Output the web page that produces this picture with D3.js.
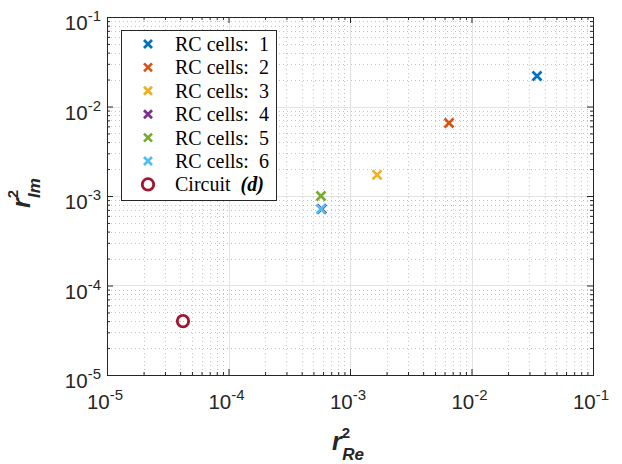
<!DOCTYPE html>
<html><head><meta charset="utf-8">
<script src="https://cdn.jsdelivr.net/npm/d3@7"></script>
<style>body{margin:0;background:#fff;} svg{display:block;}</style>
</head><body>
<script>
// Data
const seriesNames = ["RC cells: 1","RC cells: 2","RC cells: 3","RC cells: 4","RC cells: 5","RC cells: 6"];
const seriesColors = ["#0072BD","#D95319","#EDB120","#7E2F8E","#77AC30","#4DBEEE"];
const rRe = [0.0346, 0.00653, 0.00167, 0.000585, 0.000577, 0.000577];
const rIm = [0.0219, 0.00654, 0.00172, 0.000716, 0.00100, 0.000716];
const circuitRe = [4.22e-5];
const circuitIm = [4.0e-5];
const circuitColor = "#A2142F";
const tickExps = [-5,-4,-3,-2,-1];

const W = 622, H = 464;
const m = {l:107, r:593, t:17, b:375};
const svg = d3.select("body").append("svg").attr("width",W).attr("height",H);
const x = d3.scaleLog().domain([1e-5,1e-1]).range([m.l,m.r]);
const y = d3.scaleLog().domain([1e-5,1e-1]).range([m.b,m.t]);

const minors = [];
for (let e=-5;e<-1;e++) for (let k=2;k<=9;k++) minors.push(k*Math.pow(10,e));
const majors = tickExps.map(e=>Math.pow(10,e));

const g = svg.append("g");
g.selectAll(".mgx").data(minors).enter().append("line")
 .attr("x1",d=>Math.round(x(d))+0.5).attr("x2",d=>Math.round(x(d))+0.5).attr("y1",m.t).attr("y2",m.b)
 .attr("stroke","#c4c4c4").attr("stroke-width",1).attr("stroke-dasharray","1,3");
g.selectAll(".mgy").data(minors).enter().append("line")
 .attr("y1",d=>Math.round(y(d))+0.5).attr("y2",d=>Math.round(y(d))+0.5).attr("x1",m.l).attr("x2",m.r)
 .attr("stroke","#c4c4c4").attr("stroke-width",1).attr("stroke-dasharray","1,3");
g.selectAll(".Mgx").data(majors).enter().append("line")
 .attr("x1",d=>Math.round(x(d))+0.5).attr("x2",d=>Math.round(x(d))+0.5).attr("y1",m.t).attr("y2",m.b)
 .attr("stroke","#e3e3e3").attr("stroke-width",1);
g.selectAll(".Mgy").data(majors).enter().append("line")
 .attr("y1",d=>Math.round(y(d))+0.5).attr("y2",d=>Math.round(y(d))+0.5).attr("x1",m.l).attr("x2",m.r)
 .attr("stroke","#e3e3e3").attr("stroke-width",1);

const axCol = "#262626";
function styleAxis(sel){ sel.select(".domain").remove(); sel.selectAll("line").attr("stroke",axCol); sel.selectAll("text").remove(); }
svg.append("g").attr("transform",`translate(0,${m.b})`).call(d3.axisBottom(x).tickValues(majors).tickSize(-6)).call(styleAxis);
svg.append("g").attr("transform",`translate(0,${m.b})`).call(d3.axisBottom(x).tickValues(minors).tickSize(-3)).call(styleAxis);
svg.append("g").attr("transform",`translate(0,${m.t})`).call(d3.axisTop(x).tickValues(majors).tickSize(-6)).call(styleAxis);
svg.append("g").attr("transform",`translate(0,${m.t})`).call(d3.axisTop(x).tickValues(minors).tickSize(-3)).call(styleAxis);
svg.append("g").attr("transform",`translate(${m.l},0)`).call(d3.axisLeft(y).tickValues(majors).tickSize(-6)).call(styleAxis);
svg.append("g").attr("transform",`translate(${m.l},0)`).call(d3.axisLeft(y).tickValues(minors).tickSize(-3)).call(styleAxis);
svg.append("g").attr("transform",`translate(${m.r},0)`).call(d3.axisRight(y).tickValues(majors).tickSize(-6)).call(styleAxis);
svg.append("g").attr("transform",`translate(${m.r},0)`).call(d3.axisRight(y).tickValues(minors).tickSize(-3)).call(styleAxis);
svg.append("rect").attr("x",m.l+0.5).attr("y",m.t+0.5).attr("width",m.r-m.l).attr("height",m.b-m.t)
 .attr("fill","none").attr("stroke",axCol).attr("stroke-width",1);

// tick labels
const tf = "Liberation Sans, Arial, sans-serif";
function powLabel(sel, e){
  sel.append("tspan").text("10");
  sel.append("tspan").attr("dy",-9).attr("font-size",15).text(String(e));
}
tickExps.forEach(e=>{
  const t = svg.append("text").attr("x",x(Math.pow(10,e))-2).attr("y",m.b+34)
    .attr("text-anchor","middle").attr("font-family",tf).attr("font-size",20.5).attr("fill",axCol);
  powLabel(t,e);
  const t2 = svg.append("text").attr("x",m.l-6).attr("y",y(Math.pow(10,e))+13)
    .attr("text-anchor","end").attr("font-family",tf).attr("font-size",20.5).attr("fill",axCol);
  powLabel(t2,e);
});

// axis labels
function axLabel(t, sub){
  t.append("tspan").text("r");
  t.append("tspan").attr("dy",-12).attr("font-size",15).attr("font-style","normal").text("2");
  t.append("tspan").attr("dx",-8).attr("dy",22).attr("font-size",17).text(sub);
}
const xl = svg.append("text").attr("x",348).attr("y",450).attr("text-anchor","middle")
 .attr("font-family",tf).attr("font-size",25).attr("font-weight","bold").attr("font-style","italic")
 .attr("fill",axCol);
axLabel(xl,"Re");
const yl = svg.append("text").attr("transform","translate(30,193) rotate(-90)").attr("text-anchor","middle")
 .attr("font-family",tf).attr("font-size",25).attr("font-weight","bold").attr("font-style","italic")
 .attr("fill",axCol);
axLabel(yl,"Im");

// markers
const cross = (s)=>`M${-s},${-s}L${s},${s}M${-s},${s}L${s},${-s}`;
seriesNames.forEach((n,i)=>{
  svg.append("path").attr("d",cross(4.5))
   .attr("transform",`translate(${x(rRe[i])},${y(rIm[i])})`)
   .attr("stroke",seriesColors[i]).attr("stroke-width",2.7).attr("fill","none");
});
svg.selectAll(".circ").data(circuitRe).enter().append("circle")
 .attr("cx",d=>x(d)).attr("cy",(d,i)=>y(circuitIm[i])).attr("r",5.7)
 .attr("fill","none").attr("stroke",circuitColor).attr("stroke-width",2.8);

// legend
const lg = svg.append("g");
lg.append("rect").attr("x",121.5).attr("y",30.5).attr("width",155).attr("height",170)
 .attr("fill","#fff").attr("stroke",axCol).attr("stroke-width",1);
const lf = "Liberation Serif, Times New Roman, serif";
const rowY = (i)=>44 + i*23.4;
seriesNames.forEach((n,i)=>{
  lg.append("path").attr("d",cross(4)).attr("transform",`translate(148,${rowY(i)})`)
    .attr("stroke",seriesColors[i]).attr("stroke-width",2.7).attr("fill","none");
  lg.append("text").attr("x",175).attr("y",rowY(i)+7).attr("font-family",lf).attr("font-size",20)
    .attr("fill","#000").text(n.replace(": ",":\u00a0 "));
});
lg.append("circle").attr("cx",148).attr("cy",rowY(6)).attr("r",5.7).attr("fill","none")
  .attr("stroke",circuitColor).attr("stroke-width",2.8);
const ct = lg.append("text").attr("x",175).attr("y",rowY(6)+7).attr("font-family",lf).attr("font-size",20).attr("fill","#000");
ct.append("tspan").text("Circuit\u00a0 ");
ct.append("tspan").attr("font-weight","bold").attr("font-style","italic").text("(d)");
</script>
</body></html>
